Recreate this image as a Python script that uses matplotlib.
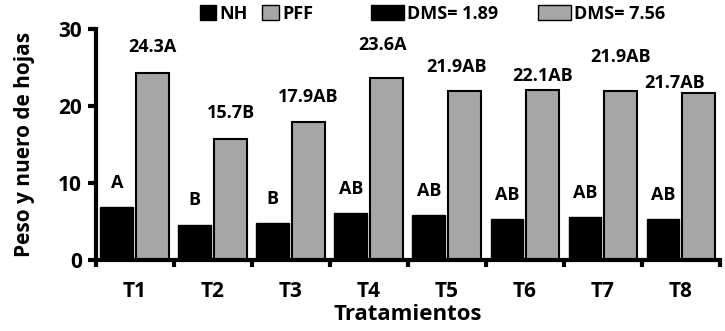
import matplotlib

matplotlib.use("Agg")
import matplotlib.pyplot as plt
import numpy as np
from matplotlib.patches import Patch

plt.rcParams["font.family"] = ["Open Sans", "DejaVu Sans"]
plt.rcParams["font.weight"] = "bold"

tratamientos = ["T1", "T2", "T3", "T4", "T5", "T6", "T7", "T8"]
nh = [6.9, 4.6, 4.8, 6.1, 5.8, 5.3, 5.6, 5.3]
pff = [24.3, 15.7, 17.9, 23.6, 21.9, 22.1, 21.9, 21.7]
nh_letras = ["A", "B", "B", "AB", "AB", "AB", "AB", "AB"]
pff_letras = ["A", "B", "AB", "A", "AB", "AB", "AB", "AB"]
dms = [1.89, 7.56]

# hand placed label heights / shifts (as in the original sheet)
pff_lab_y = [27.7, 19.1, 21.2, 27.9, 25.1, 23.9, 26.4, 23.0]
pff_lab_dx = [0, 0, 0, -0.05, -0.1, 0, 0, -0.31]

BLACK = "#000000"
GRAY = "#a6a6a6"
FS = 13

fig = plt.figure(figsize=(7.25, 3.31), dpi=100)
ax = fig.add_axes([0.132, 0.2145, 0.861, 0.6975])

x = np.arange(len(tratamientos))
w = 0.42
ax.bar(x - 0.23, nh, w, color=BLACK, edgecolor=BLACK, linewidth=1)
ax.bar(x + 0.23, pff, w, color=GRAY, edgecolor=BLACK, linewidth=1.5)

for i in range(len(x)):
    ax.annotate(nh_letras[i], (x[i] - 0.23, nh[i]), xytext=(0, 11),
                textcoords="offset points", ha="center", va="bottom",
                fontsize=FS, fontweight="bold")
    ax.text(x[i] + 0.23 + pff_lab_dx[i], pff_lab_y[i],
            f"{pff[i]:.1f}{pff_letras[i]}", ha="center", va="center",
            fontsize=FS, fontweight="bold", clip_on=False)

ax.set_xlim(-0.5, len(x) - 0.5)
ax.set_ylim(0, 30)
ax.set_yticks([0, 10, 20, 30])
ax.set_xticks(x)
ax.set_xticklabels(tratamientos)
ax.set_xticks(np.arange(-0.5, len(x)), minor=True)
ax.tick_params(axis="x", which="major", length=0, pad=15, labelsize=15)
ax.tick_params(axis="x", which="minor", length=5, width=3, direction="out")
ax.tick_params(axis="y", length=6, width=3, direction="out", labelsize=15, pad=4)
for lab in ax.get_xticklabels() + ax.get_yticklabels():
    lab.set_fontweight("bold")

for s in ["top", "right"]:
    ax.spines[s].set_visible(False)
for s in ["left", "bottom"]:
    ax.spines[s].set_linewidth(3)

ax.set_ylabel("Peso y nuero de hojas", fontsize=15, fontweight="bold")
ax.yaxis.set_label_coords(-0.098, 0.5)
ax.set_xlabel("Tratamientos", fontsize=16, fontweight="bold")
ax.xaxis.set_label_coords(0.5, -0.19)

h1 = [Patch(facecolor=BLACK, edgecolor=BLACK, label="NH"),
      Patch(facecolor=GRAY, edgecolor=BLACK, label="PFF")]
leg1 = ax.legend(handles=h1, loc="center left", bbox_to_anchor=(0.155, 1.065),
                 ncol=2, frameon=False, handlelength=0.9,
                 handleheight=0.9, handletextpad=0.2, columnspacing=0.8,
                 borderaxespad=0, prop={"weight": "bold", "size": FS})
ax.add_artist(leg1)
h2 = [Patch(facecolor=BLACK, edgecolor=BLACK, label=f"DMS= {dms[0]}"),
      Patch(facecolor=GRAY, edgecolor=BLACK, label=f"DMS= {dms[1]}")]
ax.legend(handles=h2, loc="center left", bbox_to_anchor=(0.43, 1.065),
          ncol=2, frameon=False, handlelength=1.8, handleheight=0.9,
          handletextpad=0.2, columnspacing=2.2, borderaxespad=0,
          prop={"weight": "bold", "size": FS})

fig.savefig("out.png", dpi=100, facecolor="white")
